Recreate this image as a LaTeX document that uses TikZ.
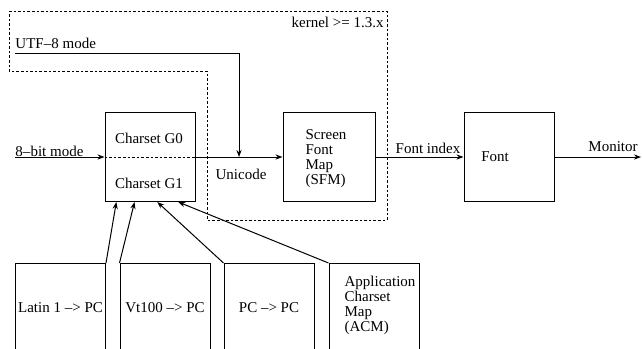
\documentclass[tikz,border=0pt]{standalone}
\usepackage{fontspec}
\setmainfont{Liberation Serif}
\usetikzlibrary{positioning}
\usetikzlibrary{calc}
\usetikzlibrary{arrows.meta}

\begin{document}
\begin{tikzpicture}[x=0.5pt, y=-0.5pt,
   font=\fontsize{7.5}{7.5}\selectfont, line width=0.5pt,
   box/.style={draw, minimum width=45pt, minimum height=44.5pt, inner sep=0pt},
   lbl/.style={inner sep=0pt},
   arr/.style={-{Stealth[length=3.5pt, width=2.6pt]}},
   kernel/.style={dash pattern=on 1.3pt off 1pt}]
\path[use as bounding box, clip] (0,0) rectangle (642,348);
\draw[kernel] (9,11) -| (387,220) -| (207,71) -| (9,11) -- cycle;
\node[lbl, anchor=east] (kern) at (384,22) {kernel >= 1.3.x};
\node[box] (cs) at (150,157) {};
\node[lbl] (g0) at (149,138) {Charset G0};
\node[lbl] (g1) at (149,183) {Charset G1};
\draw[kernel] (cs.west) -- (cs.east);
\node[box, minimum width=46pt] (sfm) at (329,157) {};
\node[lbl, align=left] (sfmtext) at (326,159) {Screen\\Font\\Map\\(SFM)};
\node[box] (font) at (509,157) {};
\node[lbl] (fonttext) at (495,157) {Font};
\node[box] (latin) at (60.5,308) {Latin 1 –> PC};
\node[box] (vt) at (165,308) {Vt100 –> PC};
\node[box] (pc) at (269,308) {PC –> PC};
\node[box] (acm) at (374,308) {};
\node[lbl, align=left] (acmtext) at (380,305) {Application\\Charset\\Map\\(ACM)};
\coordinate (utfin) at (15,53);
\coordinate (utfend) at (239,157);
\coordinate (bitin) at (15,157);
\coordinate (monout) at (641,157);
\node[lbl, anchor=west] (utf) at (15,43) {UTF–8 mode};
\node[lbl, anchor=west] (bit) at (15,151) {8–bit mode};
\node[lbl] (uni) at (241,174) {Unicode};
\node[lbl] (idx) at (428,148) {Font index};
\node[lbl] (mon) at (613,147) {Monitor};
\draw[arr] (utfin) -| (utfend);
\draw[arr] (bitin) -- (cs.west);
\draw[arr] (cs.east) -- (sfm.west);
\draw[arr] (sfm.east) -- (font.west);
\draw[arr] (font.east) -- (monout);
\draw[arr] (latin.north east) -- ($(cs.south west)!0.13!(cs.south east)$);
\draw[arr] (vt.north west) -- ($(cs.south west)!0.33!(cs.south east)$);
\draw[arr] (pc.north west) -- ($(cs.south west)!0.58!(cs.south east)$);
\draw[arr] (acm.north west) -- ($(cs.south west)!0.81!(cs.south east)$);
\end{tikzpicture}
\end{document}
